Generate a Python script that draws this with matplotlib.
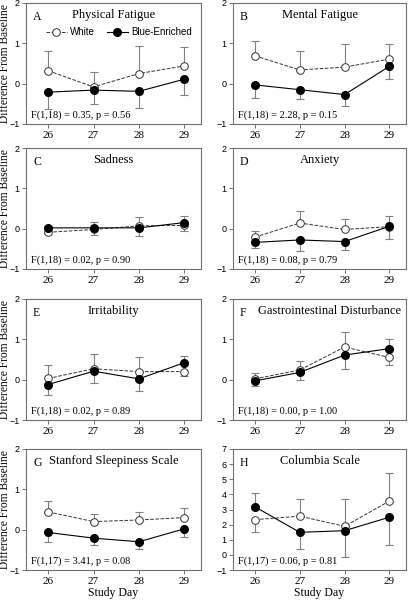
import numpy as np
import matplotlib
matplotlib.use('agg')
import matplotlib.pyplot as plt

days = [26, 27, 28, 29]

titles = ['Physical Fatigue', 'Mental Fatigue', 'Sadness', 'Anxiety',
          'Irritability', 'Gastrointestinal Disturbance',
          'Stanford Sleepiness Scale', 'Columbia Scale']
letters = ['A', 'B', 'C', 'D', 'E', 'F', 'G', 'H']
stats = ['F(1,18) = 0.35, p = 0.56', 'F(1,18) = 2.28, p = 0.15',
         'F(1,18) = 0.02, p = 0.90', 'F(1,18) = 0.08, p = 0.79',
         'F(1,18) = 0.02, p = 0.89', 'F(1,18) = 0.00, p = 1.00',
         'F(1,17) = 3.41, p = 0.08', 'F(1,17) = 0.06, p = 0.81']

# means
white = [
    [0.32, -0.08, 0.25, 0.44],
    [0.69, 0.34, 0.41, 0.61],
    [-0.09, -0.02, 0.07, 0.08],
    [-0.21, 0.14, -0.02, 0.05],
    [0.03, 0.27, 0.20, 0.20],
    [0.02, 0.24, 0.81, 0.55],
    [0.44, 0.20, 0.24, 0.30],
    [2.33, 2.56, 1.89, 3.56],
]
blue = [
    [-0.21, -0.16, -0.19, 0.11],
    [-0.03, -0.15, -0.27, 0.43],
    [0.02, 0.02, 0.02, 0.15],
    [-0.34, -0.28, -0.32, 0.06],
    [-0.12, 0.21, 0.02, 0.42],
    [-0.03, 0.18, 0.61, 0.77],
    [-0.07, -0.21, -0.30, 0.02],
    [3.18, 1.49, 1.60, 2.49],
]
# one-sided error bar lengths (SEM)
white_err = [
    [0.48, 0.38, 0.68, 0.48],
    [0.38, 0.47, 0.57, 0.37],
    [0.04, 0.13, 0.22, 0.13],
    [0.14, 0.31, 0.26, 0.31],
    [0.33, 0.36, 0.36, 0.11],
    [0.15, 0.22, 0.38, 0.19],
    [0.28, 0.18, 0.21, 0.23],
    [0.80, 1.15, 1.82, 1.88],
]
blue_err = [
    [0.41, 0.34, 0.41, 0.40],
    [0.32, 0.22, 0.29, 0.32],
    [0.04, 0.14, 0.19, 0.17],
    [0.15, 0.28, 0.22, 0.26],
    [0.27, 0.30, 0.30, 0.16],
    [0.13, 0.20, 0.34, 0.25],
    [0.24, 0.16, 0.17, 0.20],
    [0.93, 1.11, 1.76, 1.82],
]

plt.rcParams['font.family'] = ['Liberation Serif', 'DejaVu Serif']

W, H = 415, 600
fig = plt.figure(figsize=(W / 100, H / 100), dpi=100)

cols = [(26, 201), (233, 406)]
rows = [(3, 124), (148, 269), (299, 420), (449, 570)]
spine_col = '#707070'
err_col = '#808080'

for i in range(8):
    r, c = divmod(i, 2)
    x0, x1 = cols[c]
    t0, b0 = rows[r]
    ax = fig.add_axes([x0 / W, 1 - b0 / H, (x1 - x0) / W, (b0 - t0) / H])
    w = np.array(white[i])
    b = np.array(blue[i])
    we = np.array(white_err[i])
    be = np.array(blue_err[i])
    up = w >= b
    w_yerr = [np.where(up, 0, we), np.where(up, we, 0)]
    b_yerr = [np.where(up, be, 0), np.where(up, 0, be)]
    ax.errorbar(days, w, yerr=w_yerr, fmt='none', ecolor=err_col, elinewidth=0.8,
                capsize=3, capthick=0.8, zorder=2)
    ax.errorbar(days, b, yerr=b_yerr, fmt='none', ecolor=err_col, elinewidth=0.8,
                capsize=3, capthick=0.8, zorder=2)
    ax.plot(days, w, '--', color='#333333', lw=0.7, marker='o', mfc='white',
            mec='#333333', mew=0.7, ms=5.5, label='White', zorder=3)
    ax.plot(days, b, '-', color='black', lw=0.8, marker='o', mfc='black',
            mec='black', ms=5.5, label='Blue-Enriched', zorder=4)

    ax.set_xlim(25.51, 29.37)
    if i == 7:
        ax.set_ylim(-1, 7)
        ax.set_yticks(range(-1, 8))
    else:
        ax.set_ylim(-1, 2)
        ax.set_yticks([-1, 0, 1, 2])
    ax.set_xticks(days)
    ax.tick_params(axis='x', direction='out', length=3, width=0.7,
                   labelsize=8, colors=spine_col, labelcolor='black', pad=2)
    ax.tick_params(axis='y', direction='out', length=3, width=0.7,
                   labelsize=6.5, colors=spine_col, labelcolor='black', pad=1.5)
    for lab in ax.get_yticklabels():
        lab.set_family(['Liberation Sans', 'DejaVu Sans'])
    for s in ax.spines.values():
        s.set_color(spine_col)
        s.set_linewidth(0.8)

    ax.text(0.04, 0.93, letters[i], transform=ax.transAxes, fontsize=8.5,
            va='top', ha='left')
    tx = 0.555 if i == 5 else 0.5
    ax.text(tx, 0.95, titles[i], transform=ax.transAxes, fontsize=9,
            va='top', ha='center')
    ax.text(0.03, 0.03, stats[i], transform=ax.transAxes, fontsize=7.5,
            va='bottom', ha='left')

    if c == 0:
        ax.set_ylabel('Difference From Baseline', fontsize=8.3)
        ax.yaxis.set_label_coords(-0.085, 0.5)
    if r == 3:
        ax.set_xlabel('Study Day', fontsize=8.5, labelpad=1)
    if i == 0:
        ax.legend(loc='upper center', bbox_to_anchor=(0.53, 0.83), ncol=2,
                  frameon=False, prop={'family': 'Liberation Sans', 'size': 7},
                  handlelength=2.2, handletextpad=0.3, columnspacing=1.2,
                  borderaxespad=0)

fig.savefig('out.png', dpi=100)
